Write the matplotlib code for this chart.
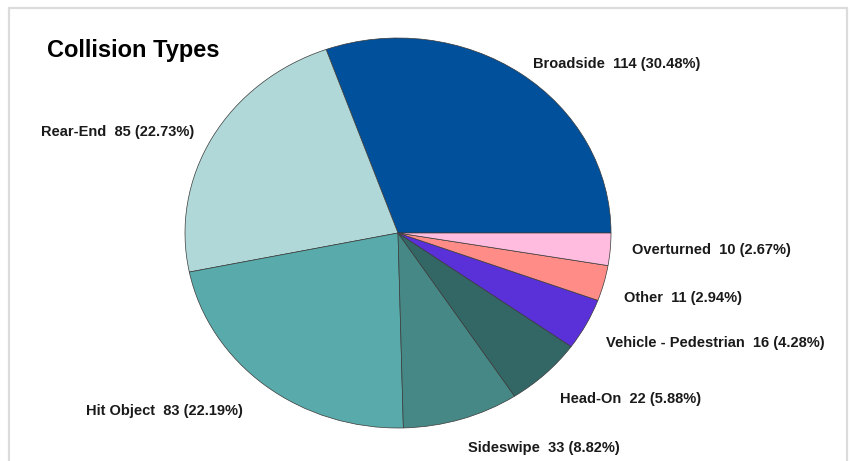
import matplotlib
matplotlib.use("Agg")
import matplotlib.pyplot as plt
import matplotlib.patches as mpatches

# ── Data ─────────────────────────────────────────────────────────────────────
categories = ["Broadside", "Rear-End", "Hit Object", "Sideswipe", "Head-On",
              "Vehicle - Pedestrian", "Other", "Overturned"]
counts = [114, 85, 83, 33, 22, 16, 11, 10]
percents = [30.48, 22.73, 22.19, 8.82, 5.88, 4.28, 2.94, 2.67]

colors = ["#00509C", "#B1D8D8", "#59ABAB", "#468886", "#336766",
          "#5A30D8", "#FF8C86", "#FFBCDE"]

# label anchor (pixel x of left edge, pixel y of centre)
label_pos = [(533, 64), (41, 132), (86, 411), (468, 448), (560, 399),
             (606, 343), (624, 298), (632, 250)]

W, H = 854, 461
plt.rcParams["font.family"] = ["Liberation Sans", "DejaVu Sans"]

fig = plt.figure(figsize=(W / 100, H / 100), dpi=100)
fig.patch.set_facecolor("white")

# light frame around the chart (open at the bottom)
frame = mpatches.Rectangle((9 / W, -0.05), (847 - 9) / W, 1.05 - 8 / H,
                           transform=fig.transFigure, fill=False,
                           edgecolor="#DCDCDC", linewidth=1.6)
fig.add_artist(frame)

# pie occupies a slightly stretched box (ellipse in the reference)
left, right, top, bottom = 185, 611, 38, 428
ax = fig.add_axes([left / W, (H - bottom) / H, (right - left) / W, (bottom - top) / H])
ax.pie(counts, colors=colors, startangle=0, counterclock=True,
       wedgeprops=dict(edgecolor="#3A3A3A", linewidth=0.5))
ax.set_aspect("auto")
ax.set_xlim(-1, 1)
ax.set_ylim(-1, 1)
ax.axis("off")

for name, n, p, (px, py) in zip(categories, counts, percents, label_pos):
    fig.text(px / W, 1 - py / H, f"{name}  {n} ({p:.2f}%)",
             ha="left", va="center", fontsize=10.5, fontweight="bold", color="#1A1A1A")

fig.text(47 / W, 1 - 50 / H, "Collision Types", ha="left", va="center",
         fontsize=17, fontweight="bold", color="black")

fig.savefig("out.png", dpi=100, facecolor="white")
